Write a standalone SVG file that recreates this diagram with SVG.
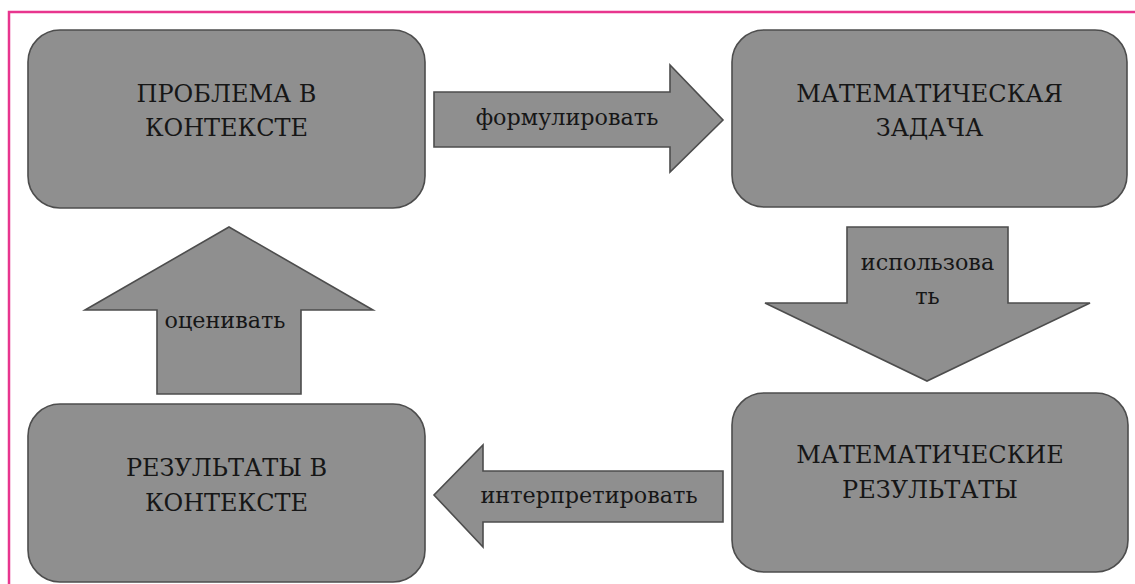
<svg xmlns="http://www.w3.org/2000/svg" width="1135" height="584" viewBox="0 0 1135 584">
<style>
.box{fill:#8f8f8f;stroke:#4d4d4d;stroke-width:1.6}
.arr{fill:#8f8f8f;stroke:#4d4d4d;stroke-width:1.6;stroke-linejoin:miter}
.t{font-family:'DejaVu Serif',serif;font-size:24px;fill:#161616;text-anchor:middle}
.s{font-family:'DejaVu Serif',serif;font-size:22.3px;fill:#161616;text-anchor:middle}
</style>
<rect x="0" y="0" width="1135" height="584" fill="#ffffff"/>
<path d="M9 584 V12 H1135" fill="none" stroke="#e8358e" stroke-width="2.5"/>
<g id="node-problem">
<rect class="box" x="28" y="30" width="397" height="178" rx="32"/>
<text class="t" x="226.5" y="102">ПРОБЛЕМА В</text>
<text class="t" x="226.5" y="136">КОНТЕКСТЕ</text>
</g>
<g id="node-task">
<rect class="box" x="732" y="30" width="395" height="177" rx="32"/>
<text class="t" x="929.5" y="102">МАТЕМАТИЧЕСКАЯ</text>
<text class="t" x="929.5" y="136">ЗАДАЧА</text>
</g>
<g id="node-mresults">
<rect class="box" x="732" y="393" width="396" height="179" rx="32"/>
<text class="t" x="930" y="463">МАТЕМАТИЧЕСКИЕ</text>
<text class="t" x="930" y="498">РЕЗУЛЬТАТЫ</text>
</g>
<g id="node-cresults">
<rect class="box" x="28" y="404" width="397" height="178" rx="32"/>
<text class="t" x="226.5" y="476">РЕЗУЛЬТАТЫ В</text>
<text class="t" x="226.5" y="511">КОНТЕКСТЕ</text>
</g>
<g id="connectors">
<g id="arrow-formulate">
<polygon class="arr" points="434,92 670,92 670,65 723,120 670,172 670,147 434,147"/>
<text class="s" x="567" y="125">формулировать</text>
</g>
<g id="arrow-use">
<polygon class="arr" points="847,227 1008,227 1008,303 1090,303 927,381 765,303 847,303"/>
<text class="s" x="927.5" y="270">использова</text>
<text class="s" x="927.5" y="304">ть</text>
</g>
<g id="arrow-interpret">
<polygon class="arr" points="723,471 483,471 483,445 434,495 483,547 483,522 723,522"/>
<text class="s" x="589" y="503">интерпретировать</text>
</g>
<g id="arrow-evaluate">
<polygon class="arr" points="157,394 157,310 85,310 229,227 373,310 301,310 301,394"/>
<text class="s" x="225" y="328">оценивать</text>
</g>
</g>
</svg>
